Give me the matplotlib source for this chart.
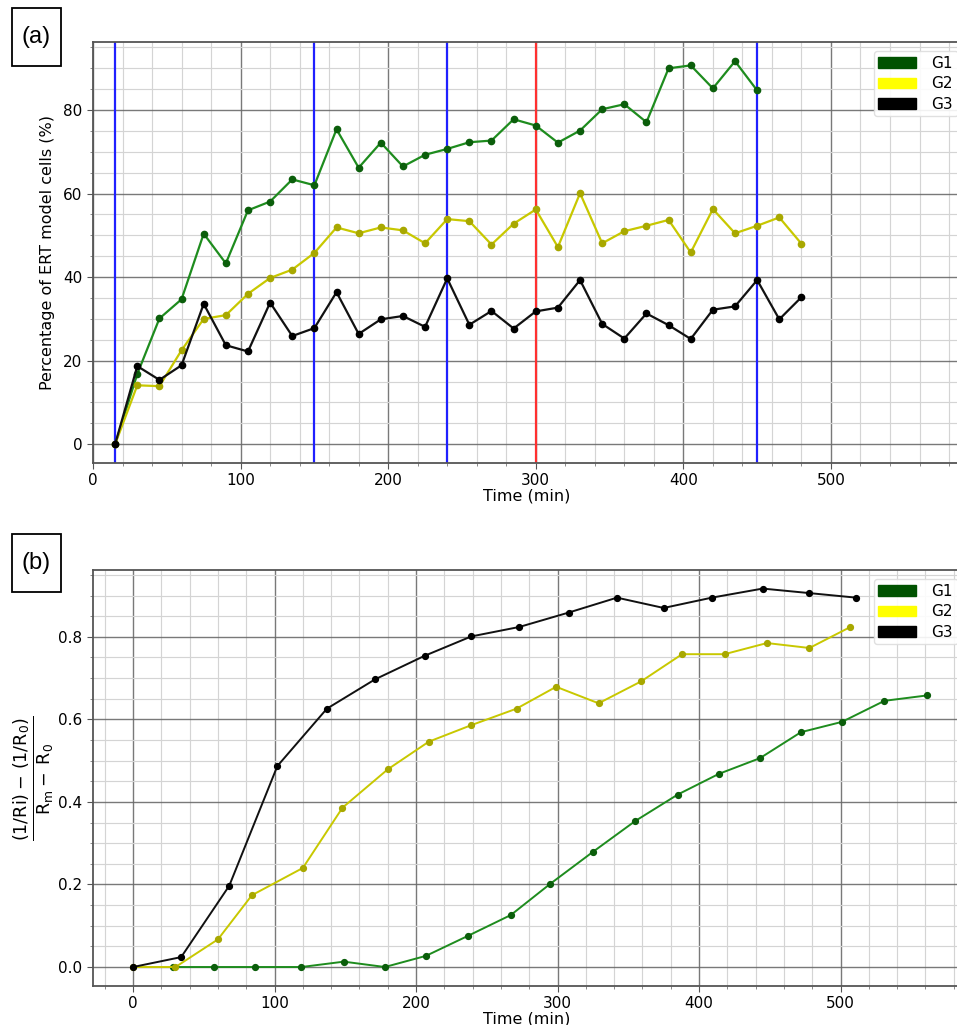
import matplotlib
matplotlib.use("Agg")
import matplotlib.pyplot as plt
from matplotlib.patches import Patch, Rectangle
from matplotlib.ticker import MultipleLocator

# ---------------- Panel (a) data ----------------
time_a = [15, 30, 45, 60, 75, 90, 105, 120, 135, 150, 165, 180, 195, 210, 225, 240,
          255, 270, 285, 300, 315, 330, 345, 360, 375, 390, 405, 420, 435, 450, 465, 480]
g1_a = [0, 16.8, 30.1, 34.7, 50.4, 43.3, 56.0, 58.1, 63.4, 62.0, 75.4, 66.2, 72.2, 66.5,
        69.3, 70.7, 72.3, 72.7, 77.8, 76.3, 72.2, 75.1, 80.2, 81.4, 77.1, 90.0, 90.7,
        85.2, 91.7, 84.7]
g2_a = [0, 14.1, 13.9, 22.5, 30.0, 30.9, 36.0, 39.8, 41.8, 45.8, 51.9, 50.5, 51.9, 51.2,
        48.1, 53.9, 53.4, 47.8, 52.8, 56.2, 47.2, 60.1, 48.1, 51.0, 52.3, 53.7, 45.9,
        56.3, 50.5, 52.3, 54.3, 48.0]
g3_a = [0, 18.7, 15.4, 18.9, 33.6, 23.7, 22.2, 33.9, 25.9, 27.8, 36.4, 26.4, 29.9, 30.7,
        28.1, 39.7, 28.6, 31.9, 27.7, 31.8, 32.7, 39.3, 28.8, 25.3, 31.3, 28.5, 25.2,
        32.2, 33.0, 39.3, 29.9, 35.2]
blue_lines = [15, 150, 240, 450]
red_lines = [300]

# ---------------- Panel (b) data ----------------
time_b_g1 = [28, 57, 86, 119, 149, 178, 207, 237, 267, 295, 325, 355, 385, 414, 443,
             472, 501, 531, 561]
g1_b = [0, 0, 0, 0, 0.013, 0, 0.027, 0.076, 0.126, 0.202, 0.279, 0.354, 0.418, 0.468,
        0.506, 0.569, 0.594, 0.645, 0.658]
time_b_g2 = [0, 30, 60, 84, 120, 148, 180, 209, 239, 271, 299, 329, 359, 388, 418, 448,
             478, 507]
g2_b = [0, 0, 0.067, 0.174, 0.240, 0.386, 0.479, 0.546, 0.586, 0.626, 0.679, 0.639,
        0.692, 0.758, 0.758, 0.785, 0.773, 0.824]
time_b_g3 = [0, 34, 68, 102, 137, 171, 206, 239, 273, 308, 342, 375, 409, 445, 478, 511]
g3_b = [0, 0.024, 0.197, 0.487, 0.626, 0.697, 0.754, 0.801, 0.824, 0.859, 0.895, 0.870,
        0.895, 0.917, 0.906, 0.895]

labels = ["G1", "G2", "G3"]
legend_colors = ["#005200", "#ffff00", "#000000"]
line_colors = ["#1e8c1e", "#c8c800", "#111111"]
marker_colors = ["#0b5e0b", "#a8a800", "#000000"]

plt.rcParams['font.family'] = ['DejaVu Sans']

W, H = 957, 1025
fig = plt.figure(figsize=(W / 100, H / 100), dpi=100)
ax_a = fig.add_axes([93 / W, 1 - 463 / H, 1.004 - 93 / W, (463 - 42) / H])
ax_b = fig.add_axes([93 / W, 1 - 986 / H, 1.004 - 93 / W, (986 - 570) / H])


def style_axes(ax):
    ax.grid(which='major', color='#6a6a6a', linewidth=1.0, alpha=0.9)
    ax.grid(which='minor', color='#d4d4d4', linewidth=0.85)
    ax.set_axisbelow(True)
    for s in ax.spines.values():
        s.set_color('#555555')
        s.set_linewidth(1.3)
    ax.tick_params(axis='both', which='major', labelsize=11, length=4, color='#555555')
    ax.tick_params(axis='both', which='minor', length=2.5, color='#777777')
    ax.set_xlabel("Time (min)", fontsize=11.5, labelpad=0)


def add_legend(ax):
    handles = [Patch(facecolor=c, edgecolor=c) for c in legend_colors]
    ax.legend(handles, labels, loc='upper right', bbox_to_anchor=(1.0, 0.985),
              fontsize=11, handlelength=2.5, handleheight=0.7, frameon=True,
              framealpha=0.9, edgecolor='#dddddd', fancybox=True, borderpad=0.3,
              labelspacing=0.35, handletextpad=1.0, borderaxespad=0.2)


# ---- Panel (a)
style_axes(ax_a)
for xv in blue_lines:
    ax_a.axvline(xv, color='#2020ff', linewidth=1.6, zorder=1.5)
for xv in red_lines:
    ax_a.axvline(xv, color='#ff3030', linewidth=1.6, zorder=1.5)
series_a = [(time_a[:len(g1_a)], g1_a), (time_a, g2_a), (time_a, g3_a)]
for (xs, ys), lc, mc in zip(series_a, line_colors, marker_colors):
    ax_a.plot(xs, ys, '-', color=lc, linewidth=1.6, marker='o', markersize=4.5,
              markerfacecolor=mc, markeredgecolor=mc, zorder=3)
ax_a.set_xlim(0, 588)
ax_a.set_ylim(-4.5, 96.3)
ax_a.xaxis.set_major_locator(MultipleLocator(100))
ax_a.xaxis.set_minor_locator(MultipleLocator(20))
ax_a.yaxis.set_major_locator(MultipleLocator(20))
ax_a.yaxis.set_minor_locator(MultipleLocator(5))
ax_a.set_ylabel("Percentage of ERT model cells (%)", fontsize=11.5, labelpad=6)
add_legend(ax_a)

# ---- Panel (b)
style_axes(ax_b)
series_b = [(time_b_g1, g1_b), (time_b_g2, g2_b), (time_b_g3, g3_b)]
for (xs, ys), lc, mc in zip(series_b, line_colors, marker_colors):
    ax_b.plot(xs, ys, '-', color=lc, linewidth=1.4, marker='o', markersize=4.2,
              markerfacecolor=mc, markeredgecolor=mc, zorder=3)
ax_b.set_xlim(-28.3, 585)
ax_b.set_ylim(-0.046, 0.962)
ax_b.xaxis.set_major_locator(MultipleLocator(100))
ax_b.xaxis.set_minor_locator(MultipleLocator(20))
ax_b.yaxis.set_major_locator(MultipleLocator(0.2))
ax_b.yaxis.set_minor_locator(MultipleLocator(0.05))
ax_b.set_ylabel(r"$\frac{(1/\mathrm{Ri})-\,(1/\mathrm{R_0})}{\mathrm{R_m}-\;\mathrm{R_0}}$",
                fontsize=18, labelpad=2)
add_legend(ax_b)

# ---- Panel labels in boxes
for lab, top in [("(a)", 8), ("(b)", 534)]:
    fig.patches.append(Rectangle((12 / W, 1 - (top + 58) / H), 49 / W, 58 / H,
                                 transform=fig.transFigure, facecolor='white',
                                 edgecolor='black', linewidth=1.3))
    fig.text(36.5 / W, 1 - (top + 29) / H, lab, fontsize=17, family='Liberation Sans',
             ha='center', va='center')

fig.savefig("out.png", dpi=100)
